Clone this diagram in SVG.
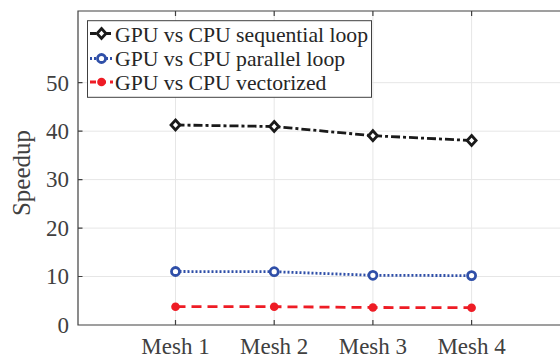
<svg xmlns="http://www.w3.org/2000/svg" width="560" height="358" viewBox="0 0 560 358">
<style>
.grid{stroke:#e6e6e6;stroke-width:1;fill:none}
.ax{stroke:#404040;stroke-width:1.2;fill:none}
.tk{font-family:"Liberation Serif","Times New Roman",serif;font-size:23px;fill:#404040}
.lg{font-family:"Liberation Serif","Times New Roman",serif;font-size:21.7px;fill:#262626}
.seq{stroke:#1a1a1a;stroke-width:2.8;fill:none;stroke-dasharray:9 3 3 3}
.par{stroke:#2f4fa8;stroke-width:2.8;fill:none;stroke-dasharray:2 2}
.vec{stroke:#ee1c25;stroke-width:2.8;fill:none;stroke-dasharray:10 6}
.dia{fill:#fff;stroke:#1a1a1a;stroke-width:2.8}
.cir{fill:#fff;stroke:#2f4fa8;stroke-width:2.8}
.dot{fill:#ee1c25;stroke:none}
</style>
<defs>
<path id="dm" d="M0,-5 L4.5,0 L0,5 L-4.5,0 Z" class="dia"/>
</defs>
<rect width="560" height="358" fill="#fff"/>
<g id="grid">
<line class="grid" x1="78" y1="82.7" x2="560" y2="82.7"/>
<line class="grid" x1="78" y1="131.2" x2="560" y2="131.2"/>
<line class="grid" x1="78" y1="179.6" x2="560" y2="179.6"/>
<line class="grid" x1="78" y1="228.1" x2="560" y2="228.1"/>
<line class="grid" x1="78" y1="276.5" x2="560" y2="276.5"/>
<line class="grid" x1="175.5" y1="11" x2="175.5" y2="325"/>
<line class="grid" x1="274.2" y1="11" x2="274.2" y2="325"/>
<line class="grid" x1="372.9" y1="11" x2="372.9" y2="325"/>
<line class="grid" x1="471.6" y1="11" x2="471.6" y2="325"/>
</g>
<g id="axes">
<path class="ax" d="M560,11 H78 V325 H560"/>
<path class="ax" d="M78,82.7h4.5M78,131.2h4.5M78,179.6h4.5M78,228.1h4.5M78,276.5h4.5"/>
<path class="ax" d="M175.5,325v-5M274.2,325v-5M372.9,325v-5M471.6,325v-5M175.5,11v5M274.2,11v5M372.9,11v5M471.6,11v5"/>
<g class="tk" text-anchor="end">
<text x="69" y="332.8">0</text>
<text x="69" y="284.3">10</text>
<text x="69" y="235.9">20</text>
<text x="69" y="187.4">30</text>
<text x="69" y="139">40</text>
<text x="69" y="90.5">50</text>
</g>
<g class="tk" text-anchor="middle">
<text x="175.5" y="354">Mesh 1</text>
<text x="274.2" y="354">Mesh 2</text>
<text x="372.9" y="354">Mesh 3</text>
<text x="471.6" y="354">Mesh 4</text>
</g>
<text class="tk" style="font-size:25px" text-anchor="middle" transform="translate(29.5,173) rotate(-90)">Speedup</text>
</g>
<g id="connectors">
<polyline class="seq" points="175.5,125 274.2,126.5 372.9,135.7 471.6,140.5"/>
<polyline class="par" points="175.5,271.5 274.2,271.7 372.9,275.3 471.6,275.6"/>
<polyline class="vec" points="175.5,306.7 274.2,306.7 372.9,307.5 471.6,307.7"/>
</g>
<g id="series-seq">
<use href="#dm" x="175.5" y="125"/>
<use href="#dm" x="274.2" y="126.5"/>
<use href="#dm" x="372.9" y="135.7"/>
<use href="#dm" x="471.6" y="140.5"/>
</g>
<g id="series-par">
<circle class="cir" cx="175.5" cy="271.5" r="4"/>
<circle class="cir" cx="274.2" cy="271.7" r="4"/>
<circle class="cir" cx="372.9" cy="275.3" r="4"/>
<circle class="cir" cx="471.6" cy="275.6" r="4"/>
</g>
<g id="series-vec">
<circle class="dot" cx="175.5" cy="306.7" r="4.3"/>
<circle class="dot" cx="274.2" cy="306.7" r="4.3"/>
<circle class="dot" cx="372.9" cy="307.5" r="4.3"/>
<circle class="dot" cx="471.6" cy="307.7" r="4.3"/>
</g>
<g id="legend">
<rect x="87.5" y="20.7" width="284" height="76.6" fill="#fff" stroke="#404040" stroke-width="1"/>
<line class="seq" x1="90" y1="33.5" x2="113" y2="33.5" style="stroke-dasharray:6 3 3 3"/>
<use href="#dm" x="101.5" y="33.5"/>
<line class="par" x1="90" y1="58.5" x2="113" y2="58.5"/>
<circle class="cir" cx="101.5" cy="58.5" r="4"/>
<line class="vec" x1="90" y1="82" x2="113" y2="82" style="stroke-dasharray:6 4"/>
<circle class="dot" cx="101.5" cy="82" r="4.3"/>
<text class="lg" x="115" y="41.5">GPU vs CPU sequential loop</text>
<text class="lg" x="115" y="66">GPU vs CPU parallel loop</text>
<text class="lg" x="115" y="90.3">GPU vs CPU vectorized</text>
</g>
</svg>
